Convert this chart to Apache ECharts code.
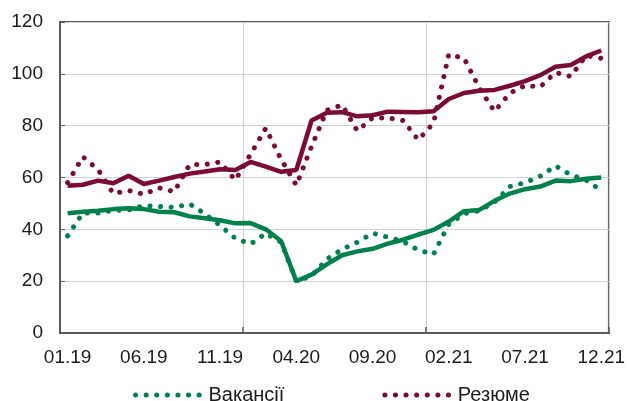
<!DOCTYPE html>
<html>
<head>
  <meta charset="utf-8">
  <title>Вакансії та резюме</title>
  <script src="https://cdn.jsdelivr.net/npm/echarts@6/dist/echarts.min.js"></script>
  <style>
    body { margin: 0; background: #fff; }
    #main { width: 628px; height: 401px; }
  </style>
</head>
<body>
  <div id="main"></div>
  <script type="text/javascript">
    // місяці 01.19 - 12.21
    var months = ['01.19','02.19','03.19','04.19','05.19','06.19','07.19','08.19','09.19','10.19','11.19','12.19',
                  '01.20','02.20','03.20','04.20','05.20','06.20','07.20','08.20','09.20','10.20','11.20','12.20',
                  '01.21','02.21','03.21','04.21','05.21','06.21','07.21','08.21','09.21','10.21','11.21','12.21'];

    // пунктир - фактичні дані
    var vacRaw = [37.5,46.3,46.3,47.3,47.5,49.2,48.8,48.5,49.8,46,41.5,36.5,34.3,38.5,35,20,22,28.5,
                  32.3,35,38.5,37,35.3,32,30.4,42,46,47.2,50.5,56.5,58,60.5,64.5,61,59,55];
    var resRaw = [58,68,63,53.8,55,53.5,56,54.5,65,65,66,59,69,79,67,57,72,86,
                  88,78,83,83,82,74.5,81,107.5,106,94.5,85.5,92.5,95.5,95,100.5,99,107,106];

    // суцільні - згладжені
    var vacTrend = [46.2,46.8,47.2,47.8,48.1,47.8,46.8,46.6,45,44.3,43.5,42.3,42.4,40,35.5,20,22.5,26.5,
                    30,31.5,32.5,34.5,36,38,39.8,43,47,47.5,51,53.8,55.5,56.5,58.8,58.6,59.5,60];
    var resTrend = [56.8,57.2,58.8,57.8,60.7,57.5,58.8,60.2,61.5,62.3,63.2,62.9,66,64.2,62.2,62.9,82,85,
                    85.2,83.6,84,85.4,85.3,85.2,85.6,90.3,92.6,93.5,93.8,95.4,97.2,99.5,102.7,103.4,106.7,109];

    var green = '#00804a';
    var maroon = '#7b0a36';
    var font = 'Liberation Sans, Arial, sans-serif';
    var yearLine = function (i) { return i % 12 === 0; };
    var dots = [0.1, 10.5];

    var myChart = echarts.init(document.getElementById('main'));

    var option = {
      animation: false,
      grid: {
        left: 60, right: 16, top: 22, bottom: 68,
        show: true, borderColor: '#595959', borderWidth: 2
      },
      legend: {
        data: ['Вакансії', 'Резюме'],
        left: 128, top: 380,
        itemWidth: 68, itemHeight: 14, itemGap: 98,
        itemStyle: { opacity: 0 },
        lineStyle: { width: 5, type: dots, cap: 'round' },
        textStyle: { fontSize: 20, color: '#1a1a1a', fontFamily: font }
      },
      xAxis: {
        type: 'category',
        data: months,
        boundaryGap: true,
        axisLine: { lineStyle: { color: '#595959', width: 2 } },
        axisTick: { show: true, inside: true, length: 6, interval: yearLine,
                    lineStyle: { color: '#595959', width: 1.5 } },
        splitLine: { show: true, interval: yearLine, lineStyle: { color: '#d0d3d4', width: 1.2 } },
        axisLabel: { interval: 4, fontSize: 19, color: '#1a1a1a', margin: 15, fontFamily: font }
      },
      yAxis: {
        type: 'value',
        min: 0, max: 120, interval: 20,
        axisLine: { show: true, lineStyle: { color: '#595959', width: 2 } },
        axisTick: { show: true, inside: true, length: 5, lineStyle: { color: '#595959' } },
        splitLine: { lineStyle: { color: '#d0d3d4', width: 1.2 } },
        axisLabel: { fontSize: 19, color: '#1a1a1a', margin: 17, fontFamily: font }
      },
      series: [
        {
          name: 'Вакансії', type: 'line', data: vacRaw, symbol: 'none',
          lineStyle: { color: green, width: 5, type: dots, cap: 'round' },
          itemStyle: { color: green }
        },
        {
          name: 'Резюме', type: 'line', data: resRaw, symbol: 'none',
          lineStyle: { color: maroon, width: 5, type: dots, cap: 'round' },
          itemStyle: { color: maroon }
        },
        {
          name: 'Вакансії (тренд)', type: 'line', data: vacTrend, symbol: 'none',
          lineStyle: { color: green, width: 4.5 }
        },
        {
          name: 'Резюме (тренд)', type: 'line', data: resTrend, symbol: 'none',
          lineStyle: { color: maroon, width: 4.5 }
        }
      ]
    };

    myChart.setOption(option);
  </script>
</body>
</html>
